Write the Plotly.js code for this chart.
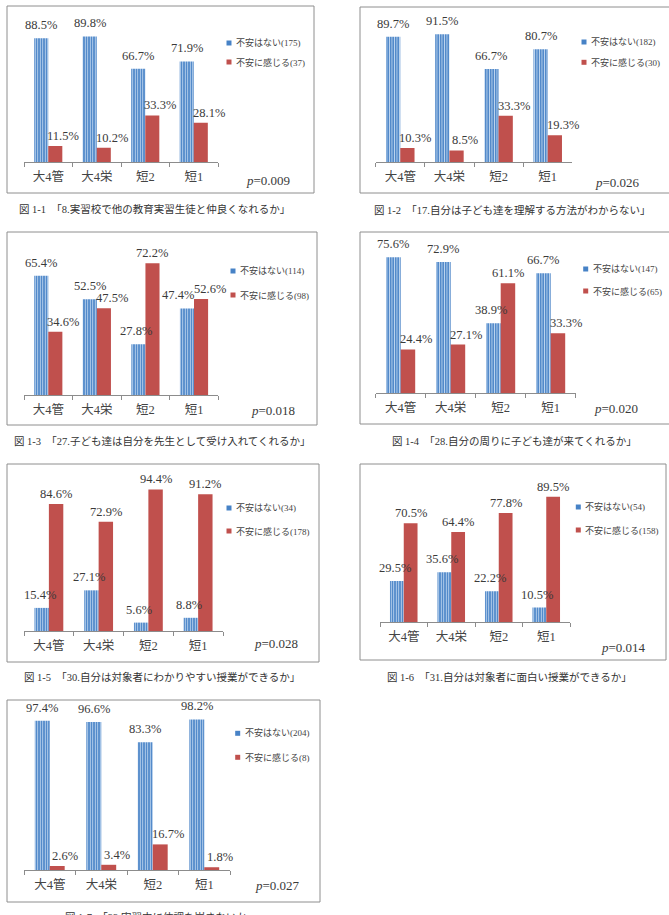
<!DOCTYPE html>
<html>
<head>
<meta charset="utf-8">
<script src="https://cdn.plot.ly/plotly-3.0.1.min.js"></script>
<style>
  html, body { margin: 0; padding: 0; background: #ffffff; }
  #chart { width: 669px; height: 915px; }
</style>
</head>
<body>
<div id="chart"></div>
<script>
// Groups on the category axis
const categories = ['大4管', '大4栄', '短2', '短1'];
const seriesNames = ['不安はない', '不安に感じる'];

// Percentages per figure: "no anxiety" vs "anxious"
const fig1None = [88.5, 89.8, 66.7, 71.9];
const fig1Anx  = [11.5, 10.2, 33.3, 28.1];
const fig2None = [89.7, 91.5, 66.7, 80.7];
const fig2Anx  = [10.3, 8.5, 33.3, 19.3];
const fig3None = [65.4, 52.5, 27.8, 47.4];
const fig3Anx  = [34.6, 47.5, 72.2, 52.6];
const fig4None = [75.6, 72.9, 38.9, 66.7];
const fig4Anx  = [24.4, 27.1, 61.1, 33.3];
const fig5None = [15.4, 27.1, 5.6, 8.8];
const fig5Anx  = [84.6, 72.9, 94.4, 91.2];
const fig6None = [29.5, 35.6, 22.2, 10.5];
const fig6Anx  = [70.5, 64.4, 77.8, 89.5];
const fig7None = [97.4, 96.6, 83.3, 98.2];
const fig7Anx  = [2.6, 3.4, 16.7, 1.8];

// Respondent counts shown in each legend: [no anxiety, anxious]
const legendCounts = [[175, 37], [182, 30], [114, 98], [147, 65], [34, 178], [54, 158], [204, 8]];
const pValues = ['0.009', '0.026', '0.018', '0.020', '0.028', '0.014', '0.027'];
const captions = [
  '図 1-1\u3000「8.実習校で他の教育実習生徒と仲良くなれるか」',
  '図 1-2\u3000「17.自分は子ども達を理解する方法がわからない」',
  '図 1-3\u3000「27.子ども達は自分を先生として受け入れてくれるか」',
  '図 1-4\u3000「28.自分の周りに子ども達が来てくれるか」',
  '図 1-5\u3000「30.自分は対象者にわかりやすい授業ができるか」',
  '図 1-6\u3000「31.自分は対象者に面白い授業ができるか」',
  '図 1-7\u3000「33.実習中に体調を崩さないか」'
];
const yMax = [100, 100, 80, 80, 100, 100, 100];

const noneSeries = [fig1None, fig2None, fig3None, fig4None, fig5None, fig6None, fig7None];
const anxSeries  = [fig1Anx, fig2Anx, fig3Anx, fig4Anx, fig5Anx, fig6Anx, fig7Anx];

// Page geometry (pixels)
const W = 669, H = 915;
const BARGAP = 0.42;
const panels = [
  { box: [7, 6, 314, 193],     plot: [24, 218, 162],      leg: [229, 43, 62],     p: [292, 180], cap: [17, 209] },
  { box: [360, 7, 672, 193],   plot: [375.7, 572.3, 162.3], leg: [584, 42, 62.3],  p: [642, 182], cap: [372, 210] },
  { box: [7, 232, 317, 425],   plot: [24, 218.3, 395],    leg: [233, 271, 295],   p: [297, 410], cap: [12, 441] },
  { box: [360, 232, 672, 424], plot: [375.7, 575.7, 393.3], leg: [585.7, 269, 291], p: [640, 409], cap: [390, 441] },
  { box: [7, 464, 319, 662],   plot: [24, 223, 631],      leg: [229, 508, 531],   p: [300, 643], cap: [22, 677] },
  { box: [360, 464, 666, 660], plot: [380, 570, 622.3],   leg: [578.3, 507, 530], p: [648, 647], cap: [385, 677] },
  { box: [7, 700, 320, 902],   plot: [24, 230, 870],      leg: [237.7, 733.3, 757.3], p: [302, 885], cap: [63, 917] }
];
// Pixel height per percentage point in each panel
const pxPerPct = [1.398, 1.40, 1.825, 1.80, 1.50, 1.404, 1.533];

const BLUE = '#4782C6';
const BLUE_LIGHT = '#C2D8F0';
const RED = '#C0504D';
const AXIS = '#8C8C8C';
const TEXT = '#3A3A3A';
const SERIF = 'Liberation Serif, Noto Sans CJK JP, serif';

const px = v => v / W;
const py = v => 1 - v / H;

const data = [];
const layout = {
  width: W, height: H,
  margin: { l: 0, r: 0, t: 0, b: 0 },
  paper_bgcolor: '#ffffff',
  plot_bgcolor: 'rgba(0,0,0,0)',
  barmode: 'group',
  bargap: BARGAP,
  bargroupgap: 0,
  showlegend: false,
  shapes: [],
  annotations: []
};

panels.forEach((pn, i) => {
  const k = i === 0 ? '' : String(i + 1);
  const xa = 'x' + k, ya = 'y' + k;
  const [x0, x1, yb] = pn.plot;
  const ytop = yb - pxPerPct[i] * yMax[i];

  data.push({
    type: 'bar', x: categories, y: noneSeries[i], name: seriesNames[0],
    xaxis: xa, yaxis: ya, hoverinfo: 'skip',
    marker: { color: BLUE, line: { width: 0 },
      pattern: { shape: '|', bgcolor: BLUE, fgcolor: BLUE_LIGHT, size: 2.5, solidity: 0.4, fillmode: 'replace' } }
  });
  data.push({
    type: 'bar', x: categories, y: anxSeries[i], name: seriesNames[1],
    xaxis: xa, yaxis: ya, hoverinfo: 'skip',
    marker: { color: RED, line: { width: 0 } }
  });

  layout['xaxis' + k] = {
    domain: [px(x0), px(x1)], anchor: ya, type: 'category',
    range: [-0.5, 3.5], fixedrange: true,
    showline: true, linecolor: AXIS, linewidth: 1,
    ticks: 'outside', tickson: 'boundaries', ticklen: 4, tickcolor: AXIS, tickwidth: 1,
    showgrid: false, zeroline: false,
    ticklabelstandoff: 3,
    tickfont: { family: SERIF, size: 12.5, color: '#444444' }
  };
  layout['yaxis' + k] = {
    domain: [py(yb), py(ytop)], anchor: xa, range: [0, yMax[i]],
    visible: false, fixedrange: true
  };

  // Frame around each figure
  layout.shapes.push({
    type: 'rect', xref: 'paper', yref: 'paper',
    x0: px(pn.box[0]), x1: px(pn.box[2]), y0: py(pn.box[3]), y1: py(pn.box[1]),
    line: { color: '#8E8E8E', width: 1 }, fillcolor: 'rgba(0,0,0,0)'
  });

  // Value labels above the bars; nudged sideways where the two labels would collide
  const catW = (x1 - x0) / categories.length;
  const half = catW * (1 - BARGAP) / 4;
  categories.forEach((c, j) => {
    const a = noneSeries[i][j], b = anxSeries[i][j];
    const close = Math.abs(a - b) < 12;
    const blueShift = a < b ? (close ? -9 : -2) : 0;
    const redShift = b < a ? 8 : (close ? 9 : 0);
    layout.annotations.push({
      xref: xa, yref: ya, x: c, y: a, text: a.toFixed(1) + '%',
      showarrow: false, xanchor: 'center', yanchor: 'middle',
      xshift: -half + blueShift, yshift: 13,
      font: { family: SERIF, size: 12.5, color: TEXT }
    });
    layout.annotations.push({
      xref: xa, yref: ya, x: c, y: b, text: b.toFixed(1) + '%',
      showarrow: false, xanchor: 'center', yanchor: 'middle',
      xshift: half + redShift, yshift: 10,
      font: { family: SERIF, size: 12.5, color: TEXT }
    });
  });

  // Legend: small swatch plus series name with count
  const [mx, ly1, ly2] = pn.leg;
  [[ly1, BLUE, 0], [ly2, RED, 1]].forEach(([ly, col, s]) => {
    layout.shapes.push({
      type: 'rect', xref: 'paper', yref: 'paper',
      x0: px(mx - 2.5), x1: px(mx + 2.5), y0: py(ly + 2.5), y1: py(ly - 2.5),
      line: { width: 0 }, fillcolor: col
    });
    layout.annotations.push({
      xref: 'paper', yref: 'paper', x: px(mx + 5), y: py(ly),
      xanchor: 'left', yanchor: 'middle', showarrow: false,
      text: seriesNames[s] + '(' + legendCounts[i][s] + ')',
      font: { family: SERIF, size: 9, color: '#444444' }
    });
  });

  // p-value
  layout.annotations.push({
    xref: 'paper', yref: 'paper', x: px(pn.p[0]), y: py(pn.p[1]),
    xanchor: 'right', yanchor: 'middle', showarrow: false,
    text: '<i>p</i>=' + pValues[i],
    font: { family: SERIF, size: 13, color: TEXT }
  });

  // Figure caption
  layout.annotations.push({
    xref: 'paper', yref: 'paper', x: px(pn.cap[0]), y: py(pn.cap[1]),
    xanchor: 'left', yanchor: 'middle', showarrow: false,
    text: captions[i],
    font: { family: SERIF, size: 10.5, color: '#333333' }
  });
});

Plotly.newPlot('chart', data, layout, { staticPlot: true, displayModeBar: false });
</script>
</body>
</html>
